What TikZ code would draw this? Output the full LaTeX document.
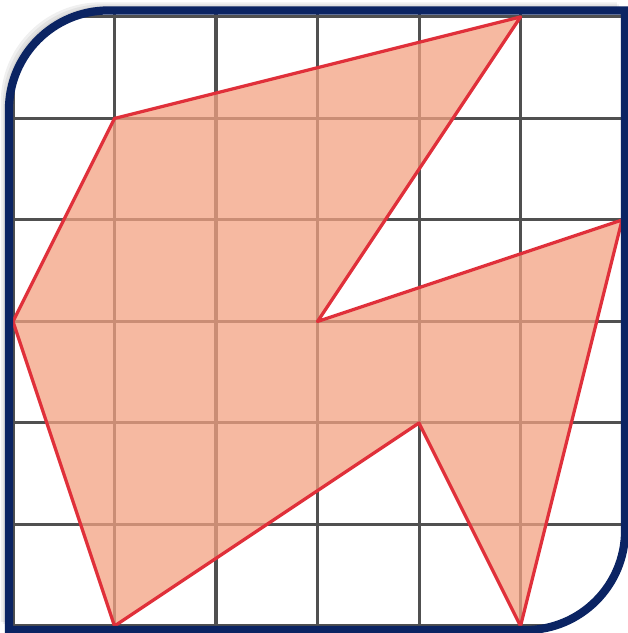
\documentclass[tikz,border=0pt]{standalone}
\usepackage{xcolor}
\usepackage{tikz}
\usetikzlibrary{shadows, calc}

\definecolor{framenavy}{HTML}{0B2463}
\definecolor{shapefill}{HTML}{F4A282}
\definecolor{shapeline}{HTML}{E0303A}
\definecolor{gridgray}{HTML}{505050}

\begin{document}
\begin{tikzpicture}[
  x=1cm, y=1cm,
  gridline/.style={draw=gridgray, line width=0.85pt},
  shapeedge/.style={draw=shapeline, line width=0.9pt, line join=round},
  frameline/.style={draw=framenavy, line width=2.3pt},
  frameshadow/.style={fill=black, opacity=0.06}
]

% Page size, margins included.
\useasboundingbox (-0.128,-0.069) rectangle (6.049,6.167);

% Frame outline: two rounded corners, two square ones.
\def\framepath{(-0.04,-0.04) -- (5.05,-0.04)
  arc[start angle=-90, end angle=0, radius=0.98] -- (6.03,6.064)
  -- (0.94,6.064) arc[start angle=90, end angle=180, radius=0.98] -- cycle}

% Soft shadow towards the upper left.
\foreach \s in {0.02,0.04,0.06,0.08}
  \fill[frameshadow, shift={(-\s,\s)}] \framepath;

\fill[white] \framepath;

% Grid and shaded figure, kept inside the frame.
\begin{scope}
  \clip \framepath;
  \foreach \i in {0,...,6} {
    \draw[gridline] (\i,-0.2) -- (\i,6.3);
    \draw[gridline] (-0.2,\i) -- (6.3,\i);
  }
  \coordinate (p1) at (1,5);
  \coordinate (p2) at (5,6);
  \coordinate (p3) at (3,3);
  \coordinate (p4) at (6,4);
  \coordinate (p5) at (5,0);
  \coordinate (p6) at (4,2);
  \coordinate (p7) at (1,0);
  \coordinate (p8) at (0,3);
  \fill[shapefill, fill opacity=0.75] (p1) -- (p2) -- (p3) -- (p4) -- (p5) -- (p6) -- (p7) -- (p8) -- cycle;
  \draw[shapeedge] (p1) -- (p2) -- (p3) -- (p4) -- (p5) -- (p6) -- (p7) -- (p8) -- cycle;
\end{scope}

\draw[frameline] \framepath;

\end{tikzpicture}
\end{document}
